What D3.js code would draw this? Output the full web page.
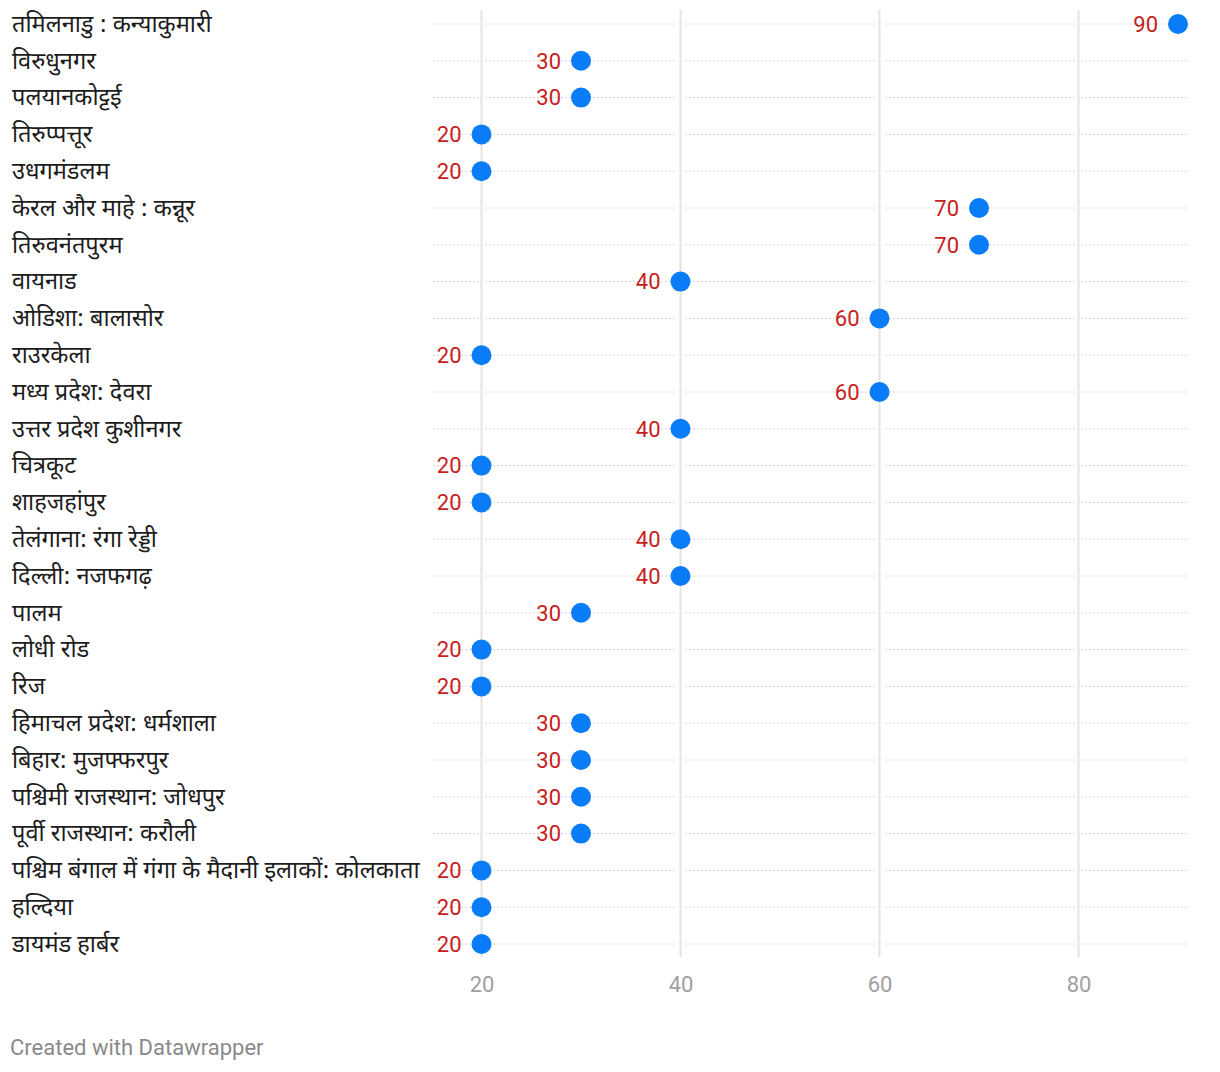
<!DOCTYPE html>
<html><head><meta charset="utf-8">
<script src="https://cdn.jsdelivr.net/npm/d3@7"></script>
<style>body{margin:0;background:#fff;} svg{display:block;font-family:Roboto,"Noto Sans",sans-serif;}</style>
</head><body>
<svg id="c" width="1220" height="1072"></svg>
<script>
const categories = ["तमिलनाडु : कन्याकुमारी","विरुधुनगर","पलयानकोट्टई","तिरुप्पत्तूर","उधगमंडलम","केरल और माहे : कन्नूर","तिरुवनंतपुरम","वायनाड","ओडिशा: बालासोर","राउरकेला","मध्य प्रदेश: देवरा","उत्तर प्रदेश कुशीनगर","चित्रकूट","शाहजहांपुर","तेलंगाना: रंगा रेड्डी","दिल्ली: नजफगढ़","पालम","लोधी रोड","रिज","हिमाचल प्रदेश: धर्मशाला","बिहार: मुजफ्फरपुर","पश्चिमी राजस्थान: जोधपुर","पूर्वी राजस्थान: करौली","पश्चिम बंगाल में गंगा के मैदानी इलाकों: कोलकाता","हल्दिया","डायमंड हार्बर"];
const values = [90,30,30,20,20,70,70,40,60,20,60,40,20,20,40,40,30,20,20,30,30,30,30,20,20,20];
const tickValues = [20,40,60,80];

const svg = d3.select("#c");
const x = d3.scaleLinear().domain([20,80]).range([481.5,1078.5]);
const y = d3.scalePoint().domain(categories).range([24,944]);
const lineX0 = 433, lineX1 = 1188;

svg.append("g").selectAll("line").data(categories).join("line")
  .attr("x1", lineX0).attr("x2", lineX1)
  .attr("y1", d=>y(d)).attr("y2", d=>y(d))
  .attr("stroke","#d4d4d4").attr("stroke-width",1).attr("stroke-dasharray","2,2");

const g = svg.append("g");
g.selectAll("line.gap").data(tickValues).join("line").attr("class","gap")
  .attr("x1",d=>x(d)).attr("x2",d=>x(d)).attr("y1",10).attr("y2",957)
  .attr("stroke","#fff").attr("stroke-width",7);
g.selectAll("line.grid").data(tickValues).join("line").attr("class","grid")
  .attr("x1",d=>x(d)).attr("x2",d=>x(d)).attr("y1",10).attr("y2",957)
  .attr("stroke","#e3e3e3").attr("stroke-width",2);

const axis = svg.append("g").attr("transform","translate(0,984)")
  .call(d3.axisBottom(x).tickValues(tickValues).tickSize(0).tickPadding(0));
axis.select(".domain").remove();
axis.selectAll("text").attr("font-size",22).attr("fill","#a0a0a0")
  .attr("font-family","Roboto,sans-serif").attr("dy","0.35em");

svg.append("g").selectAll("text").data(categories).join("text")
  .attr("x",12).attr("y",d=>y(d)).attr("dy","0.33em")
  .attr("font-family","'Noto Sans Devanagari',Roboto,sans-serif")
  .attr("font-size",23.6).attr("fill","#1d1d1d").text(d=>d);

svg.append("g").selectAll("circle").data(values).join("circle")
  .attr("cx",d=>x(d)).attr("cy",(d,i)=>y(categories[i])).attr("r",10)
  .attr("fill","#0a7cf7");

svg.append("g").selectAll("text").data(values).join("text")
  .attr("x",d=>x(d)-20).attr("y",(d,i)=>y(categories[i])).attr("dy","0.35em")
  .attr("text-anchor","end").attr("font-size",22).attr("fill","#c71e1d")
  .attr("font-family","Roboto,sans-serif").text(d=>d);

svg.append("text").attr("x",10).attr("y",1055).attr("font-size",22)
  .attr("fill","#8a8a8a").attr("font-family","Roboto,sans-serif").text("Created with Datawrapper");
</script>
</body></html>
